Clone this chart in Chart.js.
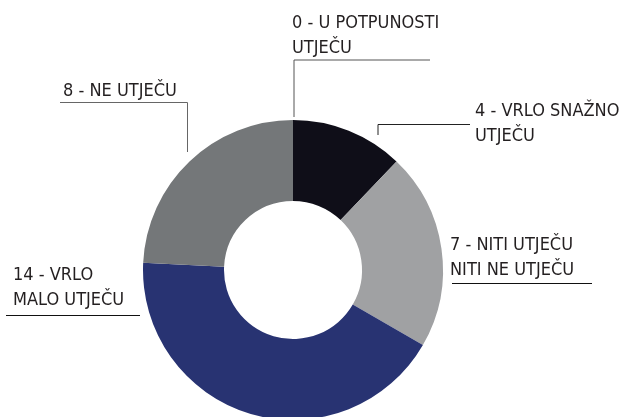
<!DOCTYPE html>
<html>
<head>
<meta charset="utf-8">
<script src="https://cdn.jsdelivr.net/npm/chart.js@4.4.0/dist/chart.umd.min.js"></script>
<style>
  html, body { margin:0; padding:0; background:#fff; overflow:hidden; }
  #wrap { width:621px; height:417px; overflow:hidden; position:relative; }
  canvas { display:block; }
</style>
</head>
<body>
<div id="wrap"><canvas id="pie" width="621" height="440"></canvas></div>
<script>
const labels = ['0 - U POTPUNOSTI UTJEČU', '4 - VRLO SNAŽNO UTJEČU', '7 - NITI UTJEČU NITI NE UTJEČU', '14 - VRLO MALO UTJEČU', '8 - NE UTJEČU'];
const values = [0, 4, 7, 14, 8];
const colors = ['#0f0e18', '#0f0e18', '#a0a1a3', '#283372', '#747779'];
const labelLines = [
  ['0 - U POTPUNOSTI', 'UTJEČU'],
  ['4 - VRLO SNAŽNO', 'UTJEČU'],
  ['7 - NITI UTJEČU', 'NITI NE UTJEČU'],
  ['14 - VRLO', 'MALO UTJEČU'],
  ['8 - NE UTJEČU']
];

// where each callout's text sits and how its leader runs (the first one starts at the arc)
const callouts = [
  { tx: 292, ty: 28, line: '#555', path: (a) => [[a.x + 1, a.y - 3], [a.x + 1, 60], [430, 60]] },
  { tx: 475, ty: 116, line: '#222', path: () => [[378, 135], [378, 124.5], [470, 124.5]] },
  { tx: 450, ty: 250, line: '#111', path: () => [[452, 283.5], [592, 283.5]] },
  { tx: 13, ty: 280, line: '#111', path: () => [[6, 315.5], [140, 315.5]] },
  { tx: 63, ty: 96, line: '#666', path: () => [[60, 102.5], [187.5, 102.5], [187.5, 152]] }
];

const calloutPlugin = {
  id: 'callouts',
  afterDraw(chart) {
    const ctx = chart.ctx;
    const meta = chart.getDatasetMeta(0);
    ctx.save();
    ctx.font = '18px "DejaVu Sans Condensed", "DejaVu Sans", sans-serif';
    ctx.fillStyle = '#231f20';
    ctx.textBaseline = 'alphabetic';
    meta.data.forEach((arc, i) => {
      const c = callouts[i];
      const p = arc.getProps(['x', 'y', 'startAngle', 'endAngle', 'outerRadius'], true);
      const mid = (p.startAngle + p.endAngle) / 2;
      const anchor = { x: p.x + Math.cos(mid) * p.outerRadius, y: p.y + Math.sin(mid) * p.outerRadius };
      labelLines[i].forEach((t, k) => ctx.fillText(t, c.tx, c.ty + k * 25));
      const pts = c.path(anchor);
      ctx.strokeStyle = c.line;
      ctx.lineWidth = 1;
      ctx.beginPath();
      pts.forEach((pt, k) => k ? ctx.lineTo(pt[0], pt[1]) : ctx.moveTo(pt[0], pt[1]));
      ctx.stroke();
    });
    ctx.restore();
  }
};

new Chart(document.getElementById('pie'), {
  type: 'doughnut',
  data: {
    labels: labels,
    datasets: [{ data: values, backgroundColor: colors, borderWidth: 0 }]
  },
  options: {
    responsive: false,
    animation: false,
    cutout: '46%',
    layout: { padding: { top: 120, bottom: 20, left: 143, right: 178 } },
    plugins: { legend: { display: false }, tooltip: { enabled: false } }
  },
  plugins: [calloutPlugin]
});
</script>
</body>
</html>
